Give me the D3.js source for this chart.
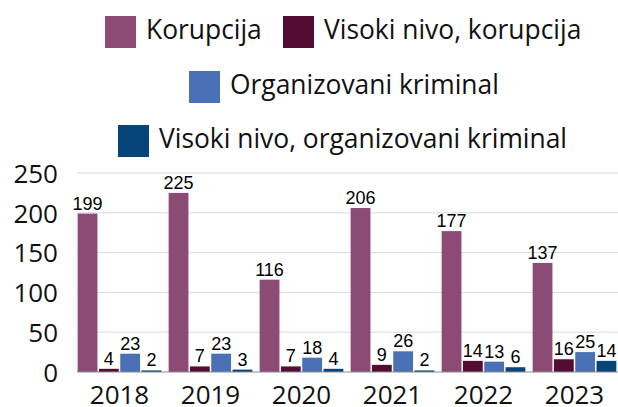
<!DOCTYPE html>
<html>
<head>
<meta charset="utf-8">
<style>
body { margin: 0; background: #fff; }
.tick text { font-family: "Open Sans", sans-serif; fill: #111; }
.vals text { font-family: "Liberation Sans", Arial, sans-serif; font-size: 18px; fill: #000; }
.legend text { font-family: "Open Sans", sans-serif; font-size: 26.4px; fill: #111; }
</style>
</head>
<body>
<svg width="618" height="407"></svg>
<script src="https://cdn.jsdelivr.net/npm/d3@7"></script>
<script>

var years = ["2018", "2019", "2020", "2021", "2022", "2023"];
var seriesNames = ["Korupcija", "Visoki nivo, korupcija", "Organizovani kriminal", "Visoki nivo, organizovani kriminal"];
var korupcija = [199, 225, 116, 206, 177, 137];
var visokiKorupcija = [4, 7, 7, 9, 14, 16];
var organizovani = [23, 23, 18, 26, 13, 25];
var visokiOrganizovani = [2, 3, 4, 2, 6, 14];
var yTicks = [0, 50, 100, 150, 200, 250];
var colors = ["#8b4b75", "#530d33", "#4a71b5", "#064479"];

var allSeries = [korupcija, visokiKorupcija, organizovani, visokiOrganizovani];

var svg = d3.select("svg");

var x = d3.scaleBand()
    .domain(years)
    .range([74, 620])
    .paddingInner(0.08)
    .paddingOuter(0.04);

var xs = d3.scaleBand()
    .domain(d3.range(seriesNames.length))
    .range([0, x.bandwidth()])
    .paddingInner(0.07);

var y = d3.scaleLinear()
    .domain([0, 250])
    .range([372, 173]);

// gridlines
svg.append("g")
  .selectAll("line")
  .data(yTicks.slice(1))
  .enter().append("line")
    .attr("x1", 77)
    .attr("x2", 618)
    .attr("y1", function(d) { return y(d); })
    .attr("y2", function(d) { return y(d); })
    .attr("stroke", "#d9d9d9")
    .attr("stroke-width", 1);

// y axis labels
var yAxis = svg.append("g")
    .attr("transform", "translate(58,0)")
    .call(d3.axisLeft(y).tickValues(yTicks).tickSize(0).tickPadding(0));
yAxis.select(".domain").remove();
yAxis.selectAll("text").attr("font-size", 26).attr("dy", "0.36em");

// bars
var groups = svg.append("g")
  .selectAll("g")
  .data(allSeries)
  .enter().append("g")
    .attr("fill", function(d, i) { return colors[i]; });

groups.each(function(vals, si) {
  d3.select(this).selectAll("rect")
    .data(vals)
    .enter().append("rect")
      .attr("x", function(d, i) { return x(years[i]) + xs(si); })
      .attr("y", function(d) { return y(d); })
      .attr("width", xs.bandwidth())
      .attr("height", function(d) { return y(0) - y(d); });
});

// value labels
var vals = svg.append("g").attr("class", "vals");
allSeries.forEach(function(series, si) {
  vals.selectAll(null)
    .data(series)
    .enter().append("text")
      .attr("x", function(d, i) { return x(years[i]) + xs(si) + xs.bandwidth() / 2; })
      .attr("y", function(d) { return y(d) - 4; })
      .attr("text-anchor", "middle")
      .text(function(d) { return d; });
});

// x axis
svg.append("line")
    .attr("x1", 77)
    .attr("x2", 618)
    .attr("y1", y(0))
    .attr("y2", y(0))
    .attr("stroke", "#8c8c8c")
    .attr("stroke-width", 1);

var xAxis = svg.append("g")
    .attr("transform", "translate(0," + y(0) + ")")
    .call(d3.axisBottom(x).tickSize(0).tickPadding(0));
xAxis.select(".domain").remove();
xAxis.selectAll("text").attr("font-size", 26).attr("dy", "1.23em");

// legend
var legendPos = [
  { x: 105, y: 16 },
  { x: 283, y: 16 },
  { x: 189, y: 71 },
  { x: 118, y: 125 }
];
var legend = svg.append("g").attr("class", "legend")
  .selectAll("g")
  .data(seriesNames)
  .enter().append("g")
    .attr("transform", function(d, i) { return "translate(" + legendPos[i].x + "," + legendPos[i].y + ")"; });

legend.append("rect")
    .attr("width", 31)
    .attr("height", 32)
    .attr("fill", function(d, i) { return colors[i]; });

legend.append("text")
    .attr("x", 41)
    .attr("y", 23)
    .text(function(d) { return d; });

</script>
</body>
</html>
